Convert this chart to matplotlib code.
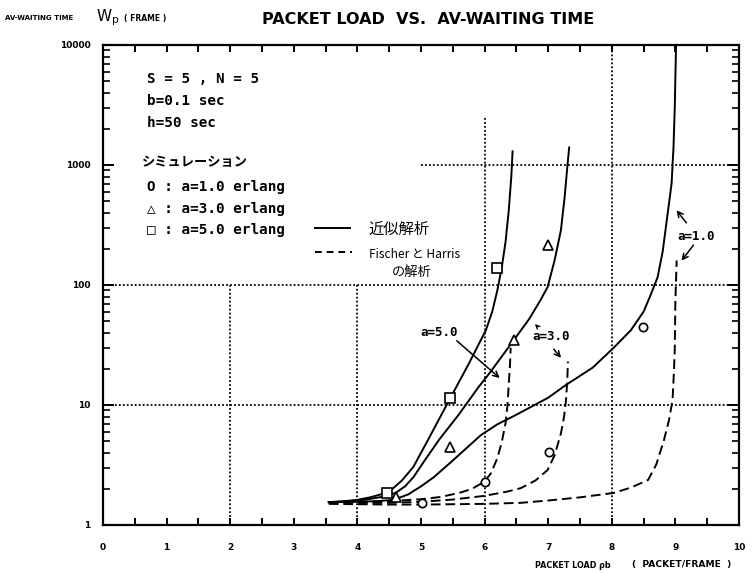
import matplotlib
matplotlib.use('Agg')
import matplotlib.pyplot as plt
from matplotlib.ticker import FixedLocator, NullFormatter

# ---------------- data ----------------
x_ticks = [0, 1, 2, 3, 4, 5, 6, 7, 8, 9, 10]
x_tick_labels = ['0', '1', '2', '3', '4', '5', '6', '7', '8', '9', '10']
y_ticks = [1, 10, 100, 1000, 10000]
y_tick_labels = ['1', '10', '100', '1000', '10000']

# 近似解析 (solid)
s5_x = [3.55, 3.8, 4.0, 4.2, 4.4, 4.55, 4.7, 4.88, 5.1, 5.46, 5.75, 6.02, 6.12, 6.2, 6.27, 6.33, 6.38, 6.42, 6.44]
s5_y = [1.55, 1.58, 1.62, 1.7, 1.82, 2.0, 2.35, 3.05, 5.0, 11.4, 22, 42, 60, 90, 140, 230, 420, 800, 1300]
s3_x = [3.55, 3.8, 4.0, 4.2, 4.4, 4.6, 4.75, 4.88, 5.05, 5.28, 5.6, 5.9, 6.09, 6.46, 6.7, 6.88, 6.99,
        7.1, 7.2, 7.26, 7.3, 7.33]
s3_y = [1.55, 1.57, 1.6, 1.65, 1.72, 1.85, 2.1, 2.5, 3.4, 5.1, 8.4, 14, 18.8, 34.8, 52, 75, 96,
        160, 286, 550, 960, 1400]
s1_x = [3.55, 4.0, 4.3, 4.57, 4.8, 5.0, 5.2, 5.46, 5.7, 5.94, 6.2, 6.5, 7.0, 7.28, 7.7, 8.03, 8.3,
        8.5, 8.6, 8.72, 8.8, 8.88, 8.94, 8.97, 8.99, 9.01]
s1_y = [1.55, 1.56, 1.58, 1.62, 1.8, 2.1, 2.5, 3.3, 4.3, 5.6, 6.9, 8.3, 11.5, 14.7, 20.5, 30, 42,
        60, 80, 116, 190, 400, 700, 1400, 3000, 9900]

# Fischer と Harris の解析 (dashed)
d5_x = [3.55, 4.0, 4.5, 5.0, 5.3, 5.6, 5.8, 6.0, 6.1, 6.2, 6.27, 6.33, 6.36, 6.38, 6.40, 6.41]
d5_y = [1.55, 1.56, 1.58, 1.64, 1.71, 1.85, 2.0, 2.3, 2.7, 3.6, 4.9, 7.1, 10, 15, 22, 30]
d3_x = [3.55, 4.5, 5.0, 5.5, 6.0, 6.36, 6.57, 6.8, 6.99, 7.1, 7.2, 7.25, 7.28, 7.3, 7.31]
d3_y = [1.53, 1.53, 1.56, 1.63, 1.75, 1.9, 2.03, 2.35, 2.87, 3.8, 5.8, 8.0, 11, 16, 23]
d1_x = [3.55, 4.5, 5.0, 6.0, 6.57, 7.0, 7.5, 8.03, 8.3, 8.57, 8.7, 8.82, 8.9, 8.955, 8.975, 8.99, 9.0, 9.02]
d1_y = [1.5, 1.48, 1.48, 1.5, 1.53, 1.6, 1.7, 1.85, 2.05, 2.37, 3.2, 5.1, 7.5, 11, 18, 28.7, 75, 160]

# シミュレーション
circ_x = [5.02, 6.0, 7.02, 8.49]
circ_y = [1.52, 2.28, 4.06, 44.7]
tri_x = [4.6, 5.46, 6.46, 7.0]
tri_y = [1.71, 4.47, 34.8, 215]
sq_x = [4.47, 5.46, 6.19]
sq_y = [1.85, 11.4, 138]

# ---------------- figure ----------------
W, H = 754, 573
fig = plt.figure(figsize=(W / 100, H / 100), dpi=100)
L, R, T, B = 103, 739, 45, 525
ax = fig.add_axes([L / W, 1 - B / H, (R - L) / W, (B - T) / H])
ax.set_yscale('log')
ax.set_xlim(0, 10)
ax.set_ylim(1, 10000)

def ftxt(px, py, s, **kw):
    kw.setdefault('ha', 'left')
    kw.setdefault('va', 'center')
    return fig.text(px / W, 1 - py / H, s, **kw)

for sp in ax.spines.values():
    sp.set_linewidth(1.6)

# ticks
ax.xaxis.set_major_locator(FixedLocator(x_ticks))
ax.set_xticklabels(x_tick_labels)
ax.xaxis.set_minor_locator(FixedLocator([v + 0.5 for v in x_ticks[:-1]]))
ax.yaxis.set_major_locator(FixedLocator(y_ticks))
ax.set_yticklabels(y_tick_labels)
ax.yaxis.set_minor_locator(FixedLocator([m * 10 ** e for e in range(4) for m in range(2, 10)]))
ax.yaxis.set_minor_formatter(NullFormatter())
ax.tick_params(axis='x', which='both', direction='in', top=True, bottom=True,
               length=5, width=1.4, pad=13, labelsize=6.5)
ax.tick_params(axis='y', which='major', direction='in', left=True, right=True,
               length=8, width=1.4, pad=9, labelsize=6.5)
ax.tick_params(axis='y', which='minor', direction='in', left=True, right=True,
               length=5, width=1.2)
for lab in ax.get_xticklabels() + ax.get_yticklabels():
    lab.set_fontweight('bold')

# partial dotted grid
dot = dict(color='black', lw=1.3, linestyle=(0, (1, 1.2)))
ax.hlines([10, 100], 0, 10, **dot)
ax.hlines([1000], 5, 10, **dot)
ax.vlines([2, 4], 1, 100, **dot)
ax.vlines([6], 1, 2500, **dot)
ax.vlines([8], 1, 10000, **dot)

# curves
solid = dict(color='black', lw=1.4, linestyle='-')
dashed = dict(color='black', lw=1.4, linestyle=(0, (5, 2.5)))
ax.plot(s5_x, s5_y, **solid)
ax.plot(s3_x, s3_y, **solid)
ax.plot(s1_x, s1_y, **solid)
ax.plot(d5_x, d5_y, **dashed)
ax.plot(d3_x, d3_y, **dashed)
ax.plot(d1_x, d1_y, **dashed)

mk = dict(linestyle='none', mfc='white', mec='black', mew=1.2, zorder=5)
ax.plot(circ_x, circ_y, marker='o', ms=6, **mk)
ax.plot(tri_x, tri_y, marker='^', ms=7, **mk)
ax.plot(sq_x, sq_y, marker='s', ms=6.5, **mk)

# annotations / arrows
arr = dict(arrowstyle='->', color='black', lw=1.1, mutation_scale=10)
ax.annotate('', xy=(6.27, 16.2), xytext=(5.53, 35.5), arrowprops=arr)
ax.annotate('', xy=(7.23, 23.7), xytext=(7.06, 30.4), arrowprops=arr)
ax.annotate('', xy=(6.76, 49), xytext=(6.87, 43), arrowprops=dict(arr, lw=0.9, mutation_scale=7))
ax.annotate('', xy=(8.99, 438), xytext=(9.20, 316), arrowprops=arr)
ax.annotate('', xy=(9.07, 153), xytext=(9.31, 224), arrowprops=arr)

mono = dict(family='DejaVu Sans Mono', fontweight='bold')
ftxt(420, 332, 'a=5.0', fontsize=9, **mono)
ftxt(532, 337, 'a=3.0', fontsize=9, **mono)
ftxt(677, 236, 'a=1.0', fontsize=9, **mono)

# in-plot legend block
ftxt(147, 79, 'S = 5 , N = 5', fontsize=10.3, **mono)
ftxt(147, 101, 'b=0.1 sec', fontsize=10.3, **mono)
ftxt(147, 123, 'h=50 sec', fontsize=10.3, **mono)
cjk = ['Noto Sans CJK JP', 'DejaVu Sans']
ftxt(142, 162, 'シミュレーション', fontsize=9.5, fontweight='bold', family=cjk)
ftxt(147, 187, 'O : a=1.0 erlang', fontsize=10.3, **mono)
ftxt(147, 209, '△ : a=3.0 erlang', fontsize=10.3, **mono)
ftxt(147, 230, '□ : a=5.0 erlang', fontsize=10.3, **mono)

fig.add_artist(plt.Line2D([315 / W, 350 / W], [1 - 228 / H, 1 - 228 / H], color='black', lw=1.4))
fig.add_artist(plt.Line2D([315 / W, 352 / W], [1 - 252 / H, 1 - 252 / H], color='black', lw=1.4,
                          linestyle=(0, (3.5, 2.5))))
ftxt(368, 229, '近似解析', fontsize=11, family=cjk)
ftxt(369, 254, 'Fischer と Harris', fontsize=8.6, family=cjk)
ftxt(392, 272, 'の解析', fontsize=9.5, family=cjk)

# header & axis labels
ftxt(5, 18, 'AV-WAITING TIME', fontsize=5, fontweight='bold')
ftxt(96, 18, r'$\mathregular{W_p}$', fontsize=11)
ftxt(124, 19, '( FRAME )', fontsize=5.5, fontweight='bold')
ftxt(428, 20, 'PACKET LOAD  VS.  AV-WAITING TIME', fontsize=11.5, fontweight='bold', ha='center')
ftxt(535, 565, 'PACKET LOAD ρb', fontsize=5.8, fontweight='bold')
ftxt(632, 565, '(  PACKET/FRAME  )', fontsize=6.6, fontweight='bold')

fig.savefig('out.png', dpi=100)
